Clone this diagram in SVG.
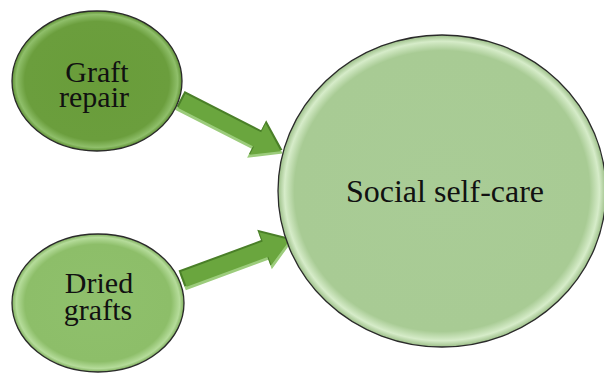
<svg xmlns="http://www.w3.org/2000/svg" width="604" height="374" viewBox="0 0 604 374">
<defs>
<radialGradient id="g1" cx="50%" cy="50%" r="50%">
<stop offset="0" stop-color="#699d3a"/><stop offset="0.85" stop-color="#6b9e3d"/><stop offset="0.95" stop-color="#8fbf6a"/><stop offset="1" stop-color="#5d8f33"/>
</radialGradient>
<radialGradient id="g2" cx="50%" cy="50%" r="50%">
<stop offset="0" stop-color="#8fc06c"/><stop offset="0.85" stop-color="#8dbe69"/><stop offset="0.95" stop-color="#b5dc9a"/><stop offset="1" stop-color="#7eae5c"/>
</radialGradient>
<radialGradient id="g3" cx="50%" cy="50%" r="50%">
<stop offset="0" stop-color="#a9cc96"/><stop offset="0.9" stop-color="#a8cb94"/><stop offset="0.96" stop-color="#d6ecc9"/><stop offset="1" stop-color="#9cbf88"/>
</radialGradient>
</defs>
<style>
.node{stroke:#2a2a2a;stroke-width:1.3}
.t{font-family:"Liberation Serif","DejaVu Serif",serif;fill:#111;text-anchor:middle}
.arrow{fill:#6aa63e}
.shadow{fill:#4a7f28}
.light{fill:#9ccc7c}
</style>
<g id="connectors">
<g transform="translate(180,100) rotate(27.0)">
<polygon class="light" points="0,-7 86,-7 86,-17 116,1 86,21 86,11 0,11"/>
<polygon class="shadow" points="0,-10 86,-10 86,-21 114,-2 86,17 86,7 0,7"/>
<polygon class="arrow" points="2,-8 87,-8 87,-18 113,0 87,17 87,8 2,8"/>
</g>
<g transform="translate(182,280) rotate(-20.3)">
<polygon class="light" points="0,-7 88,-7 88,-17 118,1 88,21 88,11 0,11"/>
<polygon class="shadow" points="0,-10 88,-10 88,-21 116,-2 88,17 88,7 0,7"/>
<polygon class="arrow" points="2,-8 89,-8 89,-18 115,0 89,17 89,8 2,8"/>
</g>
</g>
<g id="node-graft-repair">
<ellipse class="node" cx="97" cy="81" rx="85" ry="70" fill="url(#g1)"/>
<text class="t" x="97" y="82" font-size="30">Graft</text>
<text class="t" x="94" y="107" font-size="30">repair</text>
</g>
<g id="node-dried-grafts">
<ellipse class="node" cx="98" cy="303" rx="86" ry="69" fill="url(#g2)"/>
<text class="t" x="99" y="293" font-size="30">Dried</text>
<text class="t" x="98" y="320" font-size="30">grafts</text>
</g>
<g id="node-social-self-care">
<ellipse class="node" cx="442" cy="191" rx="164" ry="156" fill="url(#g3)"/>
<text class="t" x="445" y="202" font-size="32">Social self-care</text>
</g>
</svg>
